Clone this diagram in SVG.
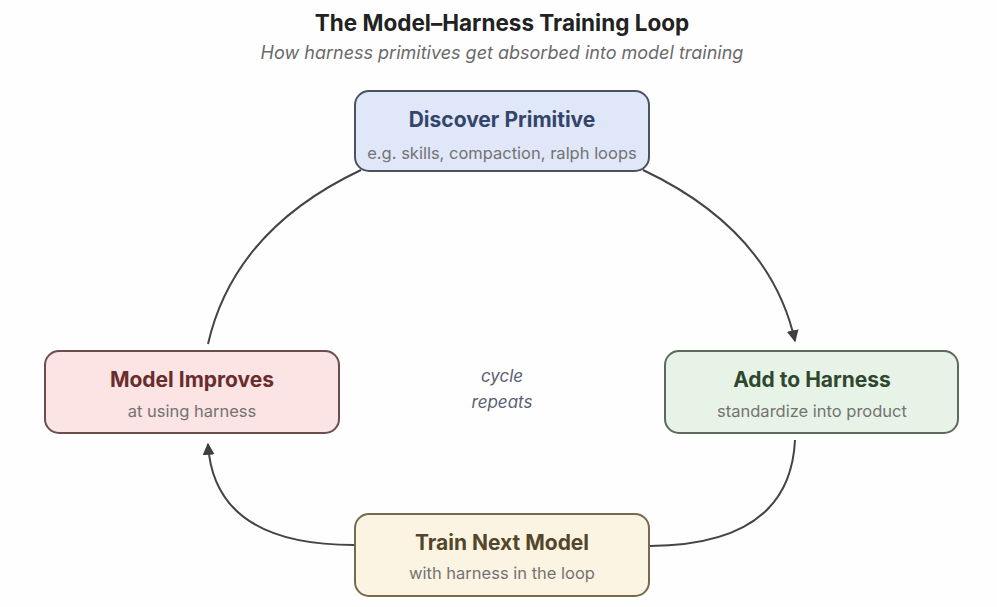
<svg xmlns="http://www.w3.org/2000/svg" width="997" height="607" viewBox="0 0 997 607">
<defs>
<marker id="arr" viewBox="0 0 10 10" refX="9" refY="5" markerWidth="12" markerHeight="12" markerUnits="userSpaceOnUse" orient="auto">
<path d="M0,0 L10,5 L0,10 z" fill="#3f3f3f"/>
</marker>
<style>
text{font-family:Inter,"Noto Sans","Liberation Sans",sans-serif;text-anchor:middle}
.title{font-size:22.5px;font-weight:700;fill:#222}
.sub{font-size:18px;font-style:italic;fill:#6a6a6a}
.nt{font-size:21px;font-weight:700}
.ns{font-size:16.5px;fill:#737373}
.box{stroke-width:2}
.edge{fill:none;stroke:#444;stroke-width:2}
.cyc{font-size:17px;font-style:italic;fill:#5a5f74}
</style>
</defs>
<rect width="997" height="607" fill="#fefefe"/>
<text class="title" x="502" y="31">The Model–Harness Training Loop</text>
<text class="sub" x="502" y="59">How harness primitives get absorbed into model training</text>

<g id="connectors">
<path class="edge" d="M643,170 Q770,230 795,341" marker-end="url(#arr)"/>
<path class="edge" d="M795,440 Q790,545 650,546"/>
<path class="edge" d="M354,545 Q214,545 208,444" marker-end="url(#arr)"/>
<path class="edge" d="M208,344 Q234,230 361,170"/>
</g>

<g id="discover">
<rect class="box" x="355" y="91" width="294" height="80" rx="14" fill="#dfe7f8" stroke="#4b5261"/>
<text class="nt" x="502" y="127" fill="#34456b">Discover Primitive</text>
<text class="ns" x="502" y="159">e.g. skills, compaction, ralph loops</text>
</g>
<g id="add">
<rect class="box" x="665" y="351" width="293" height="82" rx="14" fill="#e7f3e6" stroke="#5b6a5a"/>
<text class="nt" x="812" y="387" fill="#2f472f">Add to Harness</text>
<text class="ns" x="812" y="417">standardize into product</text>
</g>
<g id="train">
<rect class="box" x="355" y="514" width="294" height="82" rx="14" fill="#fcf4e2" stroke="#756a4e"/>
<text class="nt" x="502" y="550" fill="#54462a">Train Next Model</text>
<text class="ns" x="502" y="579">with harness in the loop</text>
</g>
<g id="improves">
<rect class="box" x="45" y="351" width="294" height="82" rx="14" fill="#fbe4e3" stroke="#6a4d4d"/>
<text class="nt" x="192" y="387" fill="#6a2c2c">Model Improves</text>
<text class="ns" x="192" y="417">at using harness</text>
</g>

<text class="cyc" x="502" y="382">cycle</text>
<text class="cyc" x="502" y="408">repeats</text>
</svg>
